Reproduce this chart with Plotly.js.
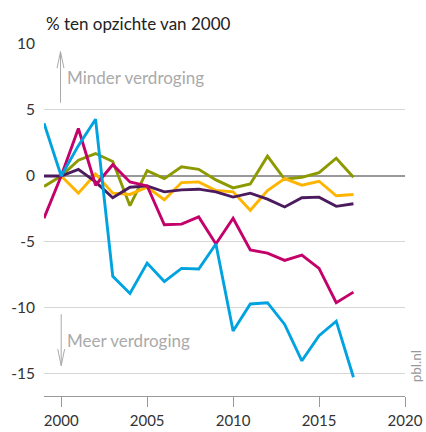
<!DOCTYPE html>
<html><head><meta charset="utf-8">
<script src="https://cdn.plot.ly/plotly-3.0.1.min.js"></script>
<style>html,body{margin:0;padding:0;background:#fff}#c{width:426px;height:432px}</style>
</head><body><div id="c"></div>
<script>
const years = [1999,2000,2001,2002,2003,2004,2005,2006,2007,2008,2009,2010,2011,2012,2013,2014,2015,2016,2017];
const blue    = [4.0,0,2.3,4.3,-7.6,-8.9,-6.6,-8.0,-7.0,-7.05,-5.15,-11.75,-9.7,-9.6,-11.25,-14.0,-12.1,-11.0,-15.25];
const magenta = [-3.2,0,3.6,-0.7,0.85,-0.45,-0.75,-3.7,-3.65,-3.1,-5.15,-3.2,-5.6,-5.85,-6.4,-6.0,-7.0,-9.6,-8.8];
const olive   = [-0.8,0,1.2,1.7,1.1,-2.25,0.4,-0.2,0.7,0.5,-0.3,-0.9,-0.6,1.5,-0.25,-0.1,0.25,1.35,-0.1];
const orange  = [null,0,-1.3,0.15,-1.3,-1.4,-0.85,-1.8,-0.5,-0.45,-1.1,-1.2,-2.6,-1.1,-0.2,-0.7,-0.4,-1.5,-1.4];
const purple  = [0,0,0.5,-0.45,-1.65,-0.85,-0.75,-1.2,-1.05,-1.0,-1.2,-1.6,-1.3,-1.75,-2.35,-1.65,-1.6,-2.3,-2.1];
const xTicks = [2000,2005,2010,2015,2020];
const yTicks = [-15,-10,-5,0,5,10];

const series = [
  {y: olive, c:'#8c9a00'},
  {y: orange, c:'#ffb400'},
  {y: purple, c:'#4b1b5e'},
  {y: magenta, c:'#c4006a'},
  {y: blue, c:'#00a3e0'}
];
const data = series.map(s => ({x: years, y: s.y, type:'scatter', mode:'lines',
  line:{color:s.c, width:2.9}, hoverinfo:'skip', showlegend:false}));

const font = "Lato, 'Open Sans', sans-serif";
const grey = '#aaa';
function arrow(x, yTail, yTip, dir) {
  const hx = 0.2, hy = 1.25 * dir;
  return [
    {type:'line', xref:'x', yref:'y', x0:x, x1:x, y0:yTail, y1:yTip, line:{color:grey, width:1}},
    {type:'path', xref:'x', yref:'y',
     path:`M${x-hx},${yTip-hy} L${x},${yTip} L${x+hx},${yTip-hy}`, line:{color:grey, width:1}}
  ];
}
const layout = {
  width:426, height:432,
  margin:{l:44, r:21, t:44, b:36},
  paper_bgcolor:'#fff', plot_bgcolor:'#fff',
  font:{family:font, size:15, color:'#333'},
  xaxis:{range:[1999,2020], tickvals:xTicks, ticktext:xTicks.map(String),
    showgrid:false, zeroline:false, showline:true, linecolor:'#999', linewidth:1,
    ticks:'outside', ticklen:10, tickcolor:'#999', ticklabelstandoff:1,
    tickfont:{size:15, color:'#333'}, fixedrange:true},
  yaxis:{range:[-16.67,10], tickvals:yTicks, ticktext:yTicks.map(String),
    showgrid:true, gridcolor:'#d6d6d6', gridwidth:1,
    zeroline:true, zerolinecolor:'#999', zerolinewidth:1.5,
    showline:false, ticks:'', ticklabelstandoff:8, tickfont:{size:15.5, color:'#333'}, fixedrange:true},
  shapes:[...arrow(1999.96, 5.55, 9.42, 1), ...arrow(2000.0, -10.48, -14.37, -1)],
  annotations:[
    {xref:'paper', yref:'paper', x:0, y:1, xanchor:'left', yanchor:'bottom', yshift:8,
     text:'% ten opzichte van 2000', showarrow:false, font:{size:17, color:'#222'}},
    {x:2000.22, y:7.45, xanchor:'left', yanchor:'middle', text:'Minder verdroging', showarrow:false,
     font:{size:17, color:grey}},
    {x:2000.22, y:-12.45, xanchor:'left', yanchor:'middle', text:'Meer verdroging', showarrow:false,
     font:{size:17, color:grey}},
    {xref:'paper', yref:'paper', x:1.031, y:0.085, xanchor:'center', yanchor:'middle', textangle:-90,
     text:'pbl.nl', showarrow:false, font:{size:13.5, color:'#999'}}
  ]
};
Plotly.newPlot('c', data, layout, {staticPlot:true, displayModeBar:false});
</script></body></html>
